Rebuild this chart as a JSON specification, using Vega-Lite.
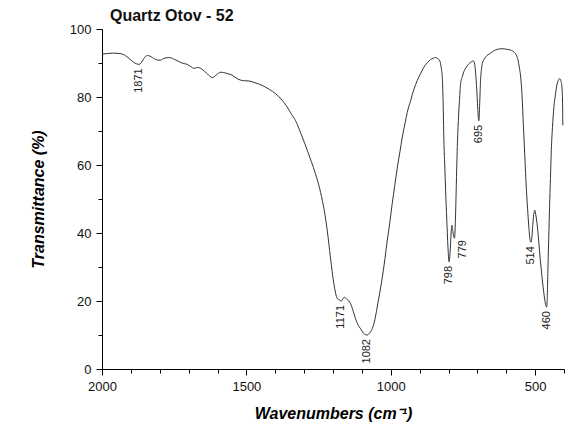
{
  "$schema": "https://vega.github.io/schema/vega-lite/v6.json",
  "width": 462,
  "height": 340,
  "autosize": {"type": "none"},
  "padding": {"left": 102, "top": 29, "right": 12, "bottom": 56},
  "background": "white",
  "title": {
    "text": "Quartz Otov - 52",
    "anchor": "start",
    "frame": "group",
    "dx": 8,
    "dy": 20,
    "offset": 6,
    "baseline": "alphabetic",
    "font": "Liberation Sans",
    "fontSize": 16,
    "fontWeight": "bold",
    "color": "#111"
  },
  "config": {"view": {"stroke": null}, "font": "Liberation Sans"},
  "resolve": {"axis": {"x": "independent", "y": "independent"}},
  "datasets": {
    "spectrum": [
      {"wavenumber": 2000, "transmittance": 92.6},
      {"wavenumber": 1980, "transmittance": 92.8},
      {"wavenumber": 1960, "transmittance": 92.9},
      {"wavenumber": 1940, "transmittance": 92.8},
      {"wavenumber": 1925, "transmittance": 92.5},
      {"wavenumber": 1910, "transmittance": 91.6},
      {"wavenumber": 1895, "transmittance": 90.5},
      {"wavenumber": 1882, "transmittance": 89.8},
      {"wavenumber": 1871, "transmittance": 89.6},
      {"wavenumber": 1860, "transmittance": 90.6},
      {"wavenumber": 1850, "transmittance": 91.9},
      {"wavenumber": 1842, "transmittance": 92.2},
      {"wavenumber": 1825, "transmittance": 91.6},
      {"wavenumber": 1810, "transmittance": 90.9},
      {"wavenumber": 1798, "transmittance": 90.8},
      {"wavenumber": 1785, "transmittance": 91.4},
      {"wavenumber": 1767, "transmittance": 91.6},
      {"wavenumber": 1745, "transmittance": 90.9},
      {"wavenumber": 1723, "transmittance": 90.0},
      {"wavenumber": 1705, "transmittance": 89.6},
      {"wavenumber": 1690, "transmittance": 88.8},
      {"wavenumber": 1682, "transmittance": 88.4},
      {"wavenumber": 1670, "transmittance": 88.7},
      {"wavenumber": 1660, "transmittance": 88.5},
      {"wavenumber": 1640, "transmittance": 87.2},
      {"wavenumber": 1617, "transmittance": 85.7},
      {"wavenumber": 1600, "transmittance": 86.8},
      {"wavenumber": 1588, "transmittance": 87.3},
      {"wavenumber": 1570, "transmittance": 87.0},
      {"wavenumber": 1549, "transmittance": 86.4},
      {"wavenumber": 1530, "transmittance": 85.3},
      {"wavenumber": 1510, "transmittance": 84.8},
      {"wavenumber": 1490, "transmittance": 84.7},
      {"wavenumber": 1470, "transmittance": 84.2},
      {"wavenumber": 1445, "transmittance": 83.4},
      {"wavenumber": 1420, "transmittance": 82.2},
      {"wavenumber": 1399, "transmittance": 81.0},
      {"wavenumber": 1380, "transmittance": 79.4},
      {"wavenumber": 1359, "transmittance": 77.1},
      {"wavenumber": 1345, "transmittance": 75.1},
      {"wavenumber": 1330, "transmittance": 73.1},
      {"wavenumber": 1310, "transmittance": 69.0},
      {"wavenumber": 1289, "transmittance": 64.3},
      {"wavenumber": 1275, "transmittance": 61.0},
      {"wavenumber": 1261, "transmittance": 57.5},
      {"wavenumber": 1249, "transmittance": 54.0},
      {"wavenumber": 1237, "transmittance": 49.6},
      {"wavenumber": 1228, "transmittance": 45.5},
      {"wavenumber": 1220, "transmittance": 40.8},
      {"wavenumber": 1209, "transmittance": 32.9},
      {"wavenumber": 1197, "transmittance": 25.1},
      {"wavenumber": 1185, "transmittance": 20.7},
      {"wavenumber": 1178, "transmittance": 20.3},
      {"wavenumber": 1171, "transmittance": 20.0},
      {"wavenumber": 1165, "transmittance": 20.8},
      {"wavenumber": 1160, "transmittance": 21.1},
      {"wavenumber": 1152, "transmittance": 20.5},
      {"wavenumber": 1139, "transmittance": 19.2},
      {"wavenumber": 1130, "transmittance": 17.0},
      {"wavenumber": 1122, "transmittance": 14.8},
      {"wavenumber": 1112, "transmittance": 12.8},
      {"wavenumber": 1105, "transmittance": 11.9},
      {"wavenumber": 1095, "transmittance": 10.6},
      {"wavenumber": 1082, "transmittance": 10.0},
      {"wavenumber": 1072, "transmittance": 10.7},
      {"wavenumber": 1064, "transmittance": 11.9},
      {"wavenumber": 1055, "transmittance": 14.5},
      {"wavenumber": 1047, "transmittance": 18.2},
      {"wavenumber": 1038, "transmittance": 22.5},
      {"wavenumber": 1029, "transmittance": 27.1},
      {"wavenumber": 1020, "transmittance": 32.5},
      {"wavenumber": 1012, "transmittance": 37.9},
      {"wavenumber": 1003, "transmittance": 43.2},
      {"wavenumber": 995, "transmittance": 48.6},
      {"wavenumber": 986, "transmittance": 54.0},
      {"wavenumber": 977, "transmittance": 59.4},
      {"wavenumber": 968, "transmittance": 64.0},
      {"wavenumber": 960, "transmittance": 68.2},
      {"wavenumber": 950, "transmittance": 72.5},
      {"wavenumber": 943, "transmittance": 75.4},
      {"wavenumber": 931, "transmittance": 79.0},
      {"wavenumber": 920, "transmittance": 82.2},
      {"wavenumber": 908, "transmittance": 84.9},
      {"wavenumber": 896, "transmittance": 87.0},
      {"wavenumber": 885, "transmittance": 88.8},
      {"wavenumber": 872, "transmittance": 90.2},
      {"wavenumber": 862, "transmittance": 91.0},
      {"wavenumber": 853, "transmittance": 91.4},
      {"wavenumber": 845, "transmittance": 91.6},
      {"wavenumber": 837, "transmittance": 91.3},
      {"wavenumber": 830, "transmittance": 90.6},
      {"wavenumber": 825, "transmittance": 88.5},
      {"wavenumber": 821, "transmittance": 84.9},
      {"wavenumber": 818, "transmittance": 76.0},
      {"wavenumber": 816, "transmittance": 67.3},
      {"wavenumber": 813, "transmittance": 60.0},
      {"wavenumber": 810, "transmittance": 52.6},
      {"wavenumber": 806, "transmittance": 44.0},
      {"wavenumber": 802, "transmittance": 36.0},
      {"wavenumber": 798, "transmittance": 31.5},
      {"wavenumber": 794, "transmittance": 35.0},
      {"wavenumber": 791, "transmittance": 40.0},
      {"wavenumber": 788, "transmittance": 42.3},
      {"wavenumber": 785, "transmittance": 40.5},
      {"wavenumber": 781, "transmittance": 38.6},
      {"wavenumber": 779, "transmittance": 38.5},
      {"wavenumber": 776, "transmittance": 44.0},
      {"wavenumber": 773, "transmittance": 54.0},
      {"wavenumber": 770, "transmittance": 64.0},
      {"wavenumber": 766, "transmittance": 73.0},
      {"wavenumber": 762, "transmittance": 79.0},
      {"wavenumber": 758, "transmittance": 84.0},
      {"wavenumber": 752, "transmittance": 86.0},
      {"wavenumber": 747, "transmittance": 87.4},
      {"wavenumber": 738, "transmittance": 88.8},
      {"wavenumber": 729, "transmittance": 89.8},
      {"wavenumber": 720, "transmittance": 90.4},
      {"wavenumber": 714, "transmittance": 90.6},
      {"wavenumber": 709, "transmittance": 89.5},
      {"wavenumber": 706, "transmittance": 86.9},
      {"wavenumber": 702, "transmittance": 82.0},
      {"wavenumber": 699, "transmittance": 77.0},
      {"wavenumber": 695, "transmittance": 73.0},
      {"wavenumber": 692, "transmittance": 78.0},
      {"wavenumber": 689, "transmittance": 84.9},
      {"wavenumber": 686, "transmittance": 88.0},
      {"wavenumber": 683, "transmittance": 89.8},
      {"wavenumber": 677, "transmittance": 91.0},
      {"wavenumber": 671, "transmittance": 91.8},
      {"wavenumber": 662, "transmittance": 92.5},
      {"wavenumber": 654, "transmittance": 92.9},
      {"wavenumber": 643, "transmittance": 93.6},
      {"wavenumber": 631, "transmittance": 94.0},
      {"wavenumber": 615, "transmittance": 94.2},
      {"wavenumber": 596, "transmittance": 94.0},
      {"wavenumber": 585, "transmittance": 93.8},
      {"wavenumber": 573, "transmittance": 93.2},
      {"wavenumber": 565, "transmittance": 92.3},
      {"wavenumber": 559, "transmittance": 90.8},
      {"wavenumber": 555, "transmittance": 88.8},
      {"wavenumber": 550, "transmittance": 85.9},
      {"wavenumber": 545, "transmittance": 80.0},
      {"wavenumber": 541, "transmittance": 72.2},
      {"wavenumber": 537, "transmittance": 65.0},
      {"wavenumber": 533, "transmittance": 57.5},
      {"wavenumber": 529, "transmittance": 51.0},
      {"wavenumber": 525, "transmittance": 45.7},
      {"wavenumber": 521, "transmittance": 41.0},
      {"wavenumber": 517, "transmittance": 37.6},
      {"wavenumber": 514, "transmittance": 37.3},
      {"wavenumber": 511, "transmittance": 39.0},
      {"wavenumber": 508, "transmittance": 42.5},
      {"wavenumber": 504, "transmittance": 46.0},
      {"wavenumber": 501, "transmittance": 46.7},
      {"wavenumber": 498, "transmittance": 45.5},
      {"wavenumber": 495, "transmittance": 43.8},
      {"wavenumber": 492, "transmittance": 41.8},
      {"wavenumber": 487, "transmittance": 37.0},
      {"wavenumber": 483, "transmittance": 32.9},
      {"wavenumber": 479, "transmittance": 29.5},
      {"wavenumber": 475, "transmittance": 26.1},
      {"wavenumber": 470, "transmittance": 22.5},
      {"wavenumber": 465, "transmittance": 19.5},
      {"wavenumber": 460, "transmittance": 18.2},
      {"wavenumber": 458, "transmittance": 21.0},
      {"wavenumber": 456, "transmittance": 28.1},
      {"wavenumber": 453, "transmittance": 38.0},
      {"wavenumber": 450, "transmittance": 47.6},
      {"wavenumber": 447, "transmittance": 56.0},
      {"wavenumber": 444, "transmittance": 64.3},
      {"wavenumber": 440, "transmittance": 71.0},
      {"wavenumber": 435, "transmittance": 77.1},
      {"wavenumber": 430, "transmittance": 80.5},
      {"wavenumber": 426, "transmittance": 82.9},
      {"wavenumber": 420, "transmittance": 84.8},
      {"wavenumber": 415, "transmittance": 85.4},
      {"wavenumber": 411, "transmittance": 84.8},
      {"wavenumber": 407, "transmittance": 82.9},
      {"wavenumber": 405, "transmittance": 78.0},
      {"wavenumber": 404, "transmittance": 71.7}
    ],
    "peaks": [
      {"wavenumber": 1871, "transmittance": 89.6, "label": "1871"},
      {"wavenumber": 1171, "transmittance": 20.0, "label": "1171"},
      {"wavenumber": 1082, "transmittance": 10.0, "label": "1082"},
      {"wavenumber": 798, "transmittance": 31.5, "label": "798"},
      {"wavenumber": 779, "transmittance": 38.5, "label": "779"},
      {"wavenumber": 695, "transmittance": 73.0, "label": "695"},
      {"wavenumber": 514, "transmittance": 37.3, "label": "514"},
      {"wavenumber": 460, "transmittance": 18.2, "label": "460"}
    ]
  },
  "layer": [
    {
      "data": {"name": "spectrum"},
      "mark": {"type": "line", "color": "#333333", "strokeWidth": 1, "interpolate": "monotone"},
      "encoding": {
        "x": {
          "field": "wavenumber",
          "type": "quantitative",
          "scale": {"domain": [400, 2000], "reverse": true, "nice": false, "zero": false},
          "axis": {
            "orient": "bottom",
            "values": [2000, 1500, 1000, 500],
            "format": "d",
            "grid": false,
            "tickSize": 6,
            "tickColor": "#000",
            "tickWidth": 1,
            "domainColor": "#000",
            "domainWidth": 1,
            "labelPadding": 5,
            "labelFont": "Liberation Sans",
            "labelFontSize": 13,
            "labelColor": "#111",
            "labelFlush": false,
            "labelOverlap": false,
            "title": "Wavenumbers (cm⁻¹)",
            "titleFont": "Liberation Sans",
            "titleFontSize": 16,
            "titleFontWeight": "bold",
            "titleFontStyle": "italic",
            "titleColor": "#000",
            "titleX": 231,
            "titleY": 44,
            "titleBaseline": "middle",
            "titleAlign": "center"
          }
        },
        "y": {
          "field": "transmittance",
          "type": "quantitative",
          "scale": {"domain": [0, 100], "nice": false, "zero": true},
          "axis": {
            "orient": "left",
            "values": [0, 20, 40, 60, 80, 100],
            "grid": false,
            "tickSize": 6,
            "tickColor": "#000",
            "tickWidth": 1,
            "domainColor": "#000",
            "domainWidth": 1,
            "labelPadding": 5,
            "labelFont": "Liberation Sans",
            "labelFontSize": 13,
            "labelColor": "#111",
            "labelFlush": false,
            "labelOverlap": false,
            "title": "Transmittance (%)",
            "titleFont": "Liberation Sans",
            "titleFontSize": 16,
            "titleFontWeight": "bold",
            "titleFontStyle": "italic",
            "titleColor": "#000",
            "titleAngle": 270,
            "titleX": -64,
            "titleY": 170,
            "titleBaseline": "middle",
            "titleAlign": "center"
          }
        }
      }
    },
    {
      "data": {"name": "peaks"},
      "transform": [{"filter": "datum.label !== '779'"}],
      "mark": {"type": "text", "angle": 270, "align": "right", "baseline": "middle", "dx": -4, "font": "Liberation Sans", "fontSize": 11, "color": "#222"},
      "encoding": {
        "x": {
          "field": "wavenumber",
          "type": "quantitative",
          "axis": {
            "orient": "bottom",
            "values": [1900, 1800, 1700, 1600, 1400, 1300, 1200, 1100, 900, 800, 700, 600, 400],
            "labels": false,
            "domain": false,
            "grid": false,
            "title": null,
            "tickSize": 4,
            "tickColor": "#000",
            "tickWidth": 1
          }
        },
        "y": {
          "field": "transmittance",
          "type": "quantitative",
          "axis": {
            "orient": "left",
            "values": [10, 30, 50, 70, 90],
            "labels": false,
            "domain": false,
            "grid": false,
            "title": null,
            "tickSize": 4,
            "tickColor": "#000",
            "tickWidth": 1
          }
        },
        "text": {"field": "label"}
      }
    },
    {
      "data": {"name": "peaks"},
      "transform": [{"filter": "datum.label === '779'"}],
      "mark": {"type": "text", "angle": 270, "align": "right", "baseline": "middle", "dx": -2, "dy": 8, "font": "Liberation Sans", "fontSize": 11, "color": "#222"},
      "encoding": {
        "x": {"field": "wavenumber", "type": "quantitative", "axis": null},
        "y": {"field": "transmittance", "type": "quantitative", "axis": null},
        "text": {"field": "label"}
      }
    }
  ]
}
